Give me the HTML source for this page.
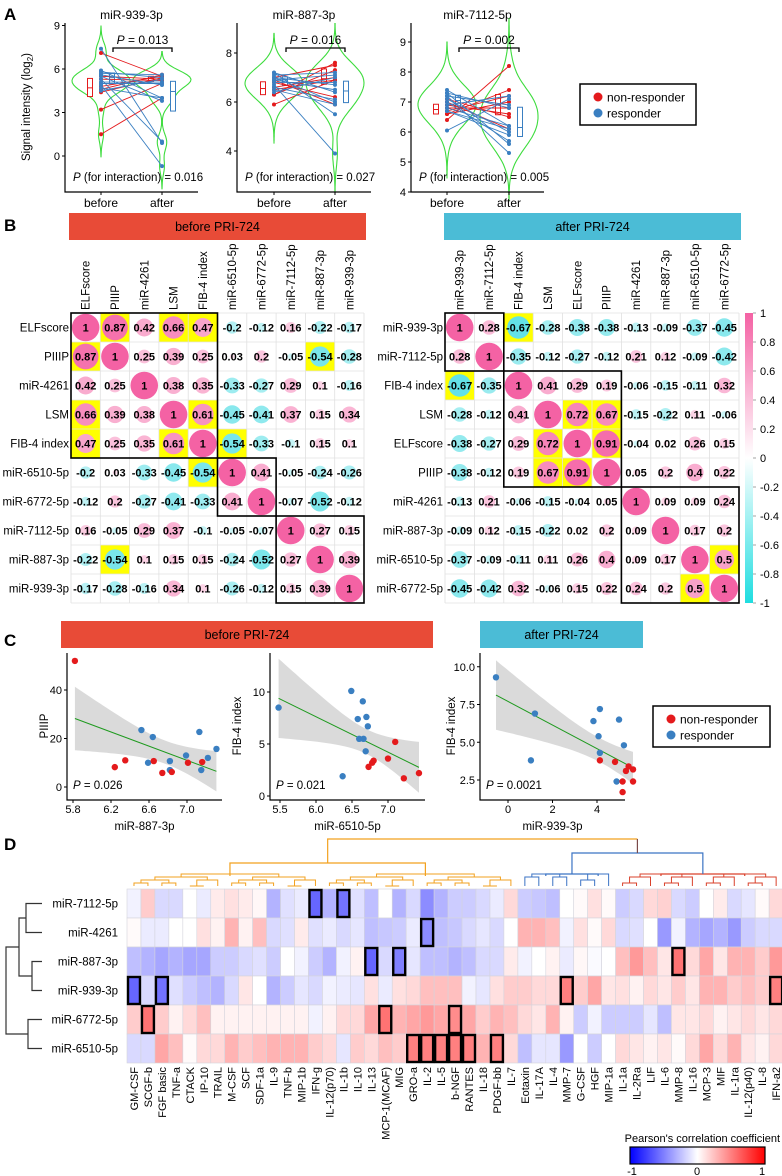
<!DOCTYPE html>
<html><head><meta charset="utf-8">
<style>
html,body{margin:0;padding:0;background:#fff;}
svg{display:block;font-family:"Liberation Sans",Arial,sans-serif;}
</style></head>
<body>
<svg id="fig" width="782" height="1176" viewBox="0 0 782 1176" xmlns="http://www.w3.org/2000/svg">
<text x="4" y="20" font-size="17" font-weight="bold">A</text>
<text x="4" y="231" font-size="17" font-weight="bold">B</text>
<text x="4" y="646" font-size="17" font-weight="bold">C</text>
<text x="4" y="850" font-size="17" font-weight="bold">D</text>
</svg>
<script>
// ---------- DATA ----------
const aTitles = ["miR-939-3p","miR-887-3p","miR-7112-5p"];
const aPvals = ["0.013","0.016","0.002"];
const aPint = ["0.016","0.027","0.005"];
const aRed1 = [[7.1,5.5],[5.5,5.3],[4.6,5.6],[4.4,5.4],[3.2,5.0],[1.5,4.0],[5.3,5.2],[4.8,5.5]];
const aBlue1 = [[7.4,0.9],[5.9,4.0],[5.8,5.4],[5.6,4.9],[5.5,3.8],[5.3,1.0],[5.1,5.1],[4.9,-0.7],[4.7,4.0],[4.5,5.3],[5.0,5.0],[5.7,5.6]];
const aRed2 = [[5.9,6.9],[6.3,7.6],[6.3,7.3],[6.6,7.0],[7.0,7.5],[6.8,6.2],[6.9,5.9],[6.5,6.9]];
const aBlue2 = [[7.2,5.5],[7.2,6.4],[7.1,7.2],[7.0,6.0],[6.9,6.5],[6.8,6.8],[6.7,3.9],[6.6,6.1],[6.5,5.9],[6.4,7.0],[6.9,7.1],[7.0,6.7]];
const aRed3 = [[6.4,8.2],[6.6,7.4],[6.7,7.2],[6.8,6.8],[6.9,6.6],[7.0,6.1],[7.1,6.5],[6.6,7.0]];
const aBlue3 = [[7.4,6.2],[7.3,5.6],[7.2,5.3],[7.2,6.9],[7.1,6.0],[7.0,5.7],[6.9,7.2],[6.8,6.2],[6.05,7.1],[6.7,6.1],[7.3,6.8],[6.7,5.9]];
const aTicks1 = [0,3,6,9];
const aTicks2 = [4,6,8];
const aTicks3 = [4,5,6,7,8,9];

const bLeftLabels = ["ELFscore","PIIIP","miR-4261","LSM","FIB-4 index","miR-6510-5p","miR-6772-5p","miR-7112-5p","miR-887-3p","miR-939-3p"];
const bLeftR = [
[1,.87,.42,.66,.47,-.2,-.12,.16,-.22,-.17],
[.87,1,.25,.39,.25,.03,.2,-.05,-.54,-.28],
[.42,.25,1,.38,.35,-.33,-.27,.29,.1,-.16],
[.66,.39,.38,1,.61,-.45,-.41,.37,.15,.34],
[.47,.25,.35,.61,1,-.54,-.33,-.1,.15,.1],
[-.2,.03,-.33,-.45,-.54,1,.41,-.05,-.24,-.26],
[-.12,.2,-.27,-.41,-.33,.41,1,-.07,-.52,-.12],
[.16,-.05,.29,.37,-.1,-.05,-.07,1,.27,.15],
[-.22,-.54,.1,.15,.15,-.24,-.52,.27,1,.39],
[-.17,-.28,-.16,.34,.1,-.26,-.12,.15,.39,1]];
const bLeftSig = [[0,1],[0,3],[0,4],[1,0],[1,8],[3,0],[3,4],[4,0],[4,3],[4,5],[5,4],[8,1]];
const bLeftClusters = [[0,4],[5,6],[7,9]];
const bRightLabels = ["miR-939-3p","miR-7112-5p","FIB-4 index","LSM","ELFscore","PIIIP","miR-4261","miR-887-3p","miR-6510-5p","miR-6772-5p"];
const bRightR = [
[1,.28,-.67,-.28,-.38,-.38,-.13,-.09,-.37,-.45],
[.28,1,-.35,-.12,-.27,-.12,.21,.12,-.09,-.42],
[-.67,-.35,1,.41,.29,.19,-.06,-.15,-.11,.32],
[-.28,-.12,.41,1,.72,.67,-.15,-.22,.11,-.06],
[-.38,-.27,.29,.72,1,.91,-.04,.02,.26,.15],
[-.38,-.12,.19,.67,.91,1,.05,.2,.4,.22],
[-.13,.21,-.06,-.15,-.04,.05,1,.09,.09,.24],
[-.09,.12,-.15,-.22,.02,.2,.09,1,.17,.2],
[-.37,-.09,-.11,.11,.26,.4,.09,.17,1,.5],
[-.45,-.42,.32,-.06,.15,.22,.24,.2,.5,1]];
const bRightSig = [[0,2],[2,0],[3,4],[3,5],[4,3],[4,5],[5,3],[5,4],[8,9],[9,8]];
const bRightClusters = [[0,1],[2,5],[6,9]];
const bBarTicks = [1,0.8,0.6,0.4,0.2,0,-0.2,-0.4,-0.6,-0.8,-1];

const c1X = [5.82,6.24,6.35,6.52,6.59,6.65,6.64,6.74,6.82,6.84,6.82,6.99,7.01,7.13,7.15,7.16,7.22,7.31];
const c1Y = [52,8.2,11,23.5,10,10.7,20.6,5.8,7,6.2,10.7,13,10,22.7,7,10.3,12,15.7];
const c1G = [1,1,1,0,0,1,0,1,0,1,0,0,1,0,0,1,0,0];
const c2X = [5.48,6.37,6.49,6.58,6.65,6.60,6.66,6.70,6.72,6.69,6.73,6.78,6.80,7.0,7.10,7.22,7.43];
const c2Y = [8.5,1.9,10.1,7.4,9.1,5.5,5.5,7.6,6.7,4.3,2.8,3.2,3.4,3.6,5.2,1.7,2.2];
const c2G = [0,0,0,0,0,0,0,0,0,0,1,1,1,1,1,1,1];
const c3X = [-0.54,1.21,1.03,3.84,4.07,4.13,4.13,4.13,4.81,4.99,4.88,5.15,5.21,5.15,5.30,5.42,5.62,5.62];
const c3Y = [9.3,6.9,3.8,6.4,5.4,7.2,4.3,3.8,3.7,6.5,2.4,2.4,4.8,1.7,3.1,3.4,3.2,2.4];
const c3G = [0,0,0,0,0,0,0,1,1,0,0,1,0,1,1,1,1,1];
const cP = ["0.026","0.021","0.0021"];

const dRows = ["miR-7112-5p","miR-4261","miR-887-3p","miR-939-3p","miR-6772-5p","miR-6510-5p"];
const dCols = ["GM-CSF","SCGF-b","FGF basic","TNF-a","CTACK","IP-10","TRAIL","M-CSF","SCF","SDF-1a","IL-9","TNF-b","MIP-1b","IFN-g","IL-12(p70)","IL-1b","IL-10","IL-13","MCP-1(MCAF)","MIG","GRO-a","IL-2","IL-5","b-NGF","RANTES","IL-18","PDGF-bb","IL-7","Eotaxin","IL-17A","IL-4","MMP-7","G-CSF","HGF","MIP-1a","IL-1a","IL-2Ra","LIF","IL-6","MMP-8","IL-16","MCP-3","MIF","IL-1ra","IL-12(p40)","IL-8","IFN-a2"];
const dVals = [
[-0.05,0.2,-0.15,-0.15,0,-0.08,0.08,0.12,0.08,0.03,-0.3,-0.12,-0.08,-0.6,-0.3,-0.55,-0.12,-0.25,0,-0.3,-0.15,-0.45,-0.3,-0.2,-0.2,-0.15,-0.08,0.15,-0.2,-0.22,-0.25,0,0.02,0.12,0.02,-0.2,-0.15,0.15,0.18,-0.15,-0.2,0,0.08,-0.15,-0.1,0.02,0.15],
[0.02,-0.08,-0.08,0,0,0.12,0.05,0.3,0.05,0.25,-0.15,-0.12,0.08,-0.12,-0.08,-0.15,-0.1,-0.25,-0.22,-0.2,-0.08,-0.45,-0.25,-0.22,-0.15,-0.1,-0.15,0,0.3,0.3,0.25,-0.05,0.12,0.02,0.15,-0.15,-0.12,0,-0.4,-0.05,-0.3,-0.35,-0.3,-0.4,-0.2,-0.15,-0.15],
[-0.25,-0.3,-0.35,-0.3,-0.35,-0.35,-0.2,-0.2,-0.15,-0.12,-0.2,0,-0.05,-0.2,-0.3,-0.05,0.05,-0.6,-0.15,-0.5,-0.1,-0.25,-0.25,-0.3,-0.25,-0.15,-0.15,0.08,-0.05,0,0.05,-0.08,0.03,-0.02,0,0.25,0.4,0.25,0.1,0.55,0.15,0.35,0.1,0.3,0.3,0.2,0.4],
[-0.6,-0.15,-0.55,-0.12,-0.2,-0.25,-0.3,-0.15,0.1,0,-0.3,-0.2,-0.1,-0.15,-0.05,-0.08,-0.1,0.12,-0.08,0.12,0.15,0.25,0.25,0.25,-0.05,-0.1,0.12,0.2,0.2,0.15,0.15,0.5,0.2,0.35,0.1,0.12,0.05,0.15,0.1,0.2,0.1,0.3,0.3,0.2,0.25,0.2,0.5],
[0.2,0.55,0.2,0.05,0.15,0.25,0.05,0.05,0.05,0.05,0.05,0.05,0.05,-0.05,0.05,0.15,0.15,0.35,0.55,0.3,0.35,0.4,0.35,0.45,0.35,0.2,0.3,0.25,0.15,0.1,0.3,0.05,-0.2,-0.05,-0.2,-0.2,-0.2,-0.1,-0.25,0.1,0.1,0.15,0.05,0.1,0.15,0.1,0.15],
[-0.15,-0.15,0.35,0.25,0.02,0.15,0.15,0.3,0.2,0.25,0.3,0.3,0.3,0.2,0.15,-0.1,0.2,0.15,0.25,0.2,0.5,0.5,0.5,0.5,0.5,0.3,0.5,0.15,-0.25,-0.1,-0.1,-0.4,0,-0.2,0,0.15,0.1,0.05,0.1,0.02,0.15,0.35,0.15,0.3,0.1,0.05,0.15]];
const dSig = [[0,13],[0,15],[1,21],[2,17],[2,19],[2,39],[3,0],[3,2],[3,31],[3,46],[4,1],[4,18],[4,23],[5,20],[5,21],[5,22],[5,23],[5,24],[5,26]];
const dColClusters = [[0,27,"#f2a11f"],[28,34,"#3b73c4"],[35,46,"#d9412b"]];

// ---------- HELPERS ----------
const NS="http://www.w3.org/2000/svg";
const svg=document.getElementById("fig");
function mk(tag,attrs,parent){const e=document.createElementNS(NS,tag);for(const k in attrs)e.setAttribute(k,attrs[k]);(parent||svg).appendChild(e);return e;}
function txt(x,y,s,size,attrs,parent){const e=mk("text",Object.assign({x:x,y:y,"font-size":size},attrs||{}),parent);e.textContent=s;return e;}
const RED="#e41a1c",BLUE="#3a7fc1";

// ---------- PANEL A ----------
const aCfg=[
 {x0:65,x1:198,top:23,bot:192,bx:101,ax:162,y:v=>156-v*14.5,ticks:aTicks1,red:aRed1,blue:aBlue1},
 {x0:237,x1:371,top:23,bot:192,bx:274,ax:335,y:v=>53-(v-8)*24.5,ticks:aTicks2,red:aRed2,blue:aBlue2},
 {x0:411,x1:544,top:23,bot:192,bx:447,ax:509,y:v=>42-(v-9)*30,ticks:aTicks3,red:aRed3,blue:aBlue3}];
function quant(a,q){const s=[...a].sort((x,y)=>x-y);const p=(s.length-1)*q;const i=Math.floor(p);return s[i]+(s[Math.min(i+1,s.length-1)]-s[i])*(p-i);}
function violin(vals,cx,ys,parent){
  const bw=0.55;const lo=Math.min(...vals)-1.6,hi=Math.max(...vals)+1.6;const n=60;let mx=0;const ds=[];
  for(let i=0;i<=n;i++){const v=lo+(hi-lo)*i/n;let d=0;vals.forEach(u=>{d+=Math.exp(-0.5*((v-u)/bw)**2);});ds.push([v,d]);mx=Math.max(mx,d);}
  const L=[],R=[];ds.forEach(([v,d])=>{const w=d/mx*29;L.push([cx-w,ys(v)]);R.push([cx+w,ys(v)]);});
  const path="M"+R.map(p=>p[0].toFixed(1)+","+p[1].toFixed(1)).join("L")+"L"+L.reverse().map(p=>p[0].toFixed(1)+","+p[1].toFixed(1)).join("L")+"Z";
  return mk("path",{d:path,fill:"none",stroke:"#3ddc3d","stroke-width":1.1},parent);
}
function boxA(vals,cx,ys,col,parent){
  const q1=quant(vals,.25),q2=quant(vals,.5),q3=quant(vals,.75);
  const g=mk("g",{},parent);
  mk("rect",{x:cx-2.5,y:ys(q3),width:5,height:Math.max(1,ys(q1)-ys(q3)),fill:"#fff",stroke:col,"stroke-width":1},g);
  mk("line",{x1:cx-2.5,x2:cx+2.5,y1:ys(q2),y2:ys(q2),stroke:col,"stroke-width":1},g);
  return g;
}
aCfg.forEach((c,k)=>{
  const g=mk("g",{});
  
  
  const t=txt((c.x0+c.x1)/2,19,aTitles[k],12,{"text-anchor":"middle"},g);
  
  
  const all=c.red.concat(c.blue);
  const vb=violin(all.map(p=>p[0]),c.bx,c.y,g);
  
  
  const va=violin(all.map(p=>p[1]),c.ax,c.y,g);
  
  
  [[c.red,RED,-11],[c.blue,BLUE,11]].forEach(([set,col,off])=>{
    const b1=boxA(set.map(p=>p[0]),c.bx+off,c.y,col,g);
    
    
    const b2=boxA(set.map(p=>p[1]),c.ax+off,c.y,col,g);
    
    
  });
  [[c.red,RED],[c.blue,BLUE]].forEach(([set,col])=>set.forEach(p=>{
    const l=mk("line",{x1:c.bx,y1:c.y(p[0]),x2:c.ax,y2:c.y(p[1]),stroke:col,"stroke-width":0.9},g);
    
    
    const d1=mk("circle",{cx:c.bx,cy:c.y(p[0]),r:2,fill:col},g);
    
    
    const d2=mk("circle",{cx:c.ax,cy:c.y(p[1]),r:2,fill:col},g);
    
    
  }));
  const ax=mk("path",{d:`M${c.x0},${c.top}V${c.bot}H${c.x1}`,fill:"none",stroke:"#000","stroke-width":1.2},g);
  
  
  c.ticks.forEach(v=>{
    mk("line",{x1:c.x0-3,x2:c.x0,y1:c.y(v),y2:c.y(v),stroke:"#000"},g);
    const tl=txt(c.x0-5,c.y(v)+4,String(v),11,{"text-anchor":"end"},g);
    
    
  });
  [[c.bx,"before"],[c.ax,"after"]].forEach(([x,s])=>{
    mk("line",{x1:x,x2:x,y1:c.bot,y2:c.bot+3,stroke:"#000"},g);
    const tl=txt(x,207,s,12,{"text-anchor":"middle"},g);
    
    
  });
  const br=mk("path",{d:`M${c.bx+12},52V48H${c.ax+10}V52`,fill:"none",stroke:"#000","stroke-width":1.3},g);
  
  
  const pt=mk("text",{x:(c.bx+c.ax)/2+11,y:44,"font-size":12,"text-anchor":"middle"},g);
  pt.innerHTML='<tspan font-style="italic">P</tspan> = '+aPvals[k];
  
  
  const pi=mk("text",{x:c.x0+8,y:181,"font-size":11.5},g);
  pi.innerHTML='<tspan font-style="italic">P</tspan> (for interaction) = '+aPint[k];
  
  
});
const ayl=mk("text",{x:0,y:0,"font-size":11.5,"text-anchor":"middle",transform:"translate(30,107) rotate(-90)"});
ayl.innerHTML='Signal intensity (log<tspan font-size="8" dy="3">2</tspan><tspan dy="-3">)</tspan>';


function legend(x,y,w,h,name){
  const g=mk("g",{});
  
  
  mk("rect",{x:x,y:y,width:w,height:h,fill:"#fff",stroke:"#000","stroke-width":1.5},g);
  mk("circle",{cx:x+18,cy:y+13,r:4.5,fill:RED},g);
  const t1=txt(x+27,y+17.5,"non-responder",12,{},g);
  
  
  mk("circle",{cx:x+18,cy:y+29,r:4.5,fill:BLUE},g);
  const t2=txt(x+27,y+33.5,"responder",12,{},g);
  
  
}
legend(580,84,116,41,"legend-a");

// ---------- PANEL B ----------
function banner(x,y,w,h,col,s,name){
  const r=mk("rect",{x:x,y:y,width:w,height:h,fill:col});
  
  
  const t=txt(x+w/2,y+h/2+4.5,s,12.5,{"text-anchor":"middle"});
  
  
}
banner(69,213,297,27,"#e84b37","before PRI-724","banner-b-before");
banner(444,213,297,27,"#4bbcd6","after PRI-724","banner-b-after");
function mixc(a,b,t){return "rgb("+a.map((v,i)=>Math.round(v+(b[i]-v)*t)).join(",")+")";}
function corrMatrix(x0,y0,cw,ch,labels,R,sig,clusters,name){
  const g=mk("g",{});
  
  
  const n=labels.length;
  sig.forEach(([i,j])=>{mk("rect",{x:x0+j*cw,y:y0+i*ch,width:cw,height:ch,fill:"#ffff00"},g);});
  for(let i=0;i<=n;i++){
    mk("line",{x1:x0,x2:x0+n*cw,y1:y0+i*ch,y2:y0+i*ch,stroke:"#e0e0e0","stroke-width":0.8},g);
    mk("line",{y1:y0,y2:y0+n*ch,x1:x0+i*cw,x2:x0+i*cw,stroke:"#e0e0e0","stroke-width":0.8},g);
  }
  for(let i=0;i<n;i++){
    const rl=txt(x0-2,y0+i*ch+ch/2+4,labels[i],11.5,{"text-anchor":"end"},g);
    
    
    const cl=txt(0,0,labels[i],11.5,{"text-anchor":"start",transform:`translate(${x0+i*cw+cw/2+4},${y0-3}) rotate(-90)`},g);
    
    
    for(let j=0;j<n;j++){
      const r=R[i][j];const a=Math.abs(r);
      const col=r>=0?mixc([255,255,255],[244,98,164],Math.min(1,a*0.8+0.2)):mixc([255,255,255],[43,214,222],Math.min(1,a*0.8+0.2));
      const c=mk("circle",{cx:x0+j*cw+cw/2,cy:y0+i*ch+ch/2,r:Math.sqrt(a)*13.8,fill:col},g);
      
      
      const t=txt(x0+j*cw+cw/2,y0+i*ch+ch/2+4,String(r),11,{"text-anchor":"middle","font-weight":"bold"},g);
      
      
    }
  }
  clusters.forEach(([a,b])=>{
    const r=mk("rect",{x:x0+a*cw,y:y0+a*ch,width:(b-a+1)*cw,height:(b-a+1)*ch,fill:"none",stroke:"#000","stroke-width":1.6},g);
    
    
  });
}
corrMatrix(71,313,29.3,29,bLeftLabels,bLeftR,bLeftSig,bLeftClusters,"corr-matrix-before");
corrMatrix(445,313,29.4,29,bRightLabels,bRightR,bRightSig,bRightClusters,"corr-matrix-after");
const defs=mk("defs",{});
defs.innerHTML='<linearGradient id="gB" x1="0" y1="0" x2="0" y2="1"><stop offset="0" stop-color="#f462a4"/><stop offset="0.5" stop-color="#ffffff"/><stop offset="1" stop-color="#1fdde0"/></linearGradient><linearGradient id="gD" x1="0" y1="0" x2="1" y2="0"><stop offset="0" stop-color="#0000ff"/><stop offset="0.5" stop-color="#ffffff"/><stop offset="1" stop-color="#ff0000"/></linearGradient>';
const cbB=mk("rect",{x:745,y:313,width:8,height:290,fill:"url(#gB)"});


bBarTicks.forEach(v=>{
  const y=313+(1-v)/2*290;
  mk("line",{x1:753,x2:756,y1:y,y2:y,stroke:"#666","stroke-width":0.6});
  const t=txt(760,y+4,String(v),11,{});
  
  
});

// ---------- PANEL C ----------
banner(61,621,372,27,"#e84b37","before PRI-724","banner-c-before");
banner(480,621,163,27,"#4bbcd6","after PRI-724","banner-c-after");
const cCfg=[
 {X:c1X,Y:c1Y,G:c1G,ax:67,ar:222,top:653,xs:v=>73+(v-5.8)*95,ys:v=>787-v*2.425,xt:[5.8,6.2,6.6,7.0],xtl:["5.8","6.2","6.6","7.0"],yt:[0,20,40],ytl:["0","20","40"],xl:"miR-887-3p",yl:"PIIIP",ylx:48},
 {X:c2X,Y:c2Y,G:c2G,ax:270,ar:425,top:653,xs:v=>280+(v-5.5)*72,ys:v=>796-v*10.4,xt:[5.5,6,6.5,7],xtl:["5.5","6.0","6.5","7.0"],yt:[0,5,10],ytl:["0","5","10"],xl:"miR-6510-5p",yl:"FIB-4 index",ylx:241},
 {X:c3X,Y:c3Y,G:c3G,ax:480,ar:625,top:653,xs:v=>508+v*22.25,ys:v=>780-(v-2.5)*15.1,xt:[0,2,4],xtl:["0","2","4"],yt:[2.5,5,7.5,10],ytl:["2.5","5.0","7.5","10.0"],xl:"miR-939-3p",yl:"FIB-4 index",ylx:455}];
cCfg.forEach((c,k)=>{
  const g=mk("g",{});
  
  
  const n=c.X.length;const mx=c.X.reduce((a,b)=>a+b)/n,my=c.Y.reduce((a,b)=>a+b)/n;
  let sxx=0,sxy=0;for(let i=0;i<n;i++){sxx+=(c.X[i]-mx)**2;sxy+=(c.X[i]-mx)*(c.Y[i]-my);}
  const b=sxy/sxx,a=my-b*mx;let sse=0;for(let i=0;i<n;i++)sse+=(c.Y[i]-a-b*c.X[i])**2;
  const s=Math.sqrt(sse/(n-2));const lo=Math.min(...c.X),hi=Math.max(...c.X);
  const up=[],dn=[];for(let i=0;i<=40;i++){const x=lo+(hi-lo)*i/40;const yh=a+b*x;const e=2.12*s*Math.sqrt(1/n+(x-mx)**2/sxx);up.push(c.xs(x).toFixed(1)+","+c.ys(yh+e).toFixed(1));dn.push(c.xs(x).toFixed(1)+","+c.ys(yh-e).toFixed(1));}
  const band=mk("path",{d:"M"+up.join("L")+"L"+dn.reverse().join("L")+"Z",fill:"#d3d3d3","fill-opacity":0.85},g);
  
  
  const fit=mk("line",{x1:c.xs(lo),y1:c.ys(a+b*lo),x2:c.xs(hi),y2:c.ys(a+b*hi),stroke:"#1e9a1e","stroke-width":1},g);
  
  
  for(let i=0;i<n;i++){
    const p=mk("circle",{cx:c.xs(c.X[i]),cy:c.ys(c.Y[i]),r:3.2,fill:c.G[i]?RED:BLUE},g);
    
    
  }
  const axl=mk("path",{d:`M${c.ax},${c.top}V800H${c.ar}`,fill:"none",stroke:"#000","stroke-width":1.2},g);
  
  
  c.yt.forEach((v,i)=>{mk("line",{x1:c.ax-3,x2:c.ax,y1:c.ys(v),y2:c.ys(v),stroke:"#000"},g);
    const t=txt(c.ax-5,c.ys(v)+4,c.ytl[i],11,{"text-anchor":"end"},g);
    
    });
  c.xt.forEach((v,i)=>{mk("line",{x1:c.xs(v),x2:c.xs(v),y1:800,y2:803,stroke:"#000"},g);
    const t=txt(c.xs(v),813,c.xtl[i],11,{"text-anchor":"middle"},g);
    
    });
  const xl=txt((c.ax+c.ar)/2,830,c.xl,11.5,{"text-anchor":"middle"},g);
  
  
  const yl=txt(0,0,c.yl,11.5,{"text-anchor":"middle",transform:`translate(${c.ylx},726) rotate(-90)`},g);
  
  
  const pt=mk("text",{x:c.ax+6,y:789,"font-size":11.5},g);
  pt.innerHTML='<tspan font-style="italic">P</tspan>  = '+cP[k];
  
  
});
legend(653,706,117,41,"legend-c");

// ---------- PANEL D ----------
const hx0=127,hy0=889,hcw=13.96,hch=29;
const hm=mk("g",{});


dVals.forEach((row,i)=>row.forEach((v,j)=>{
  const col=v>=0?mixc([255,255,255],[255,0,0],Math.min(1,v)):mixc([255,255,255],[0,0,255],Math.min(1,-v));
  const c=mk("rect",{x:hx0+j*hcw,y:hy0+i*hch,width:hcw,height:hch,fill:col,stroke:"#d4d4dc","stroke-width":0.6},hm);
  
  
}));
dSig.forEach(([i,j])=>{
  const r=mk("rect",{x:hx0+j*hcw+1,y:hy0+i*hch+1,width:hcw-2,height:hch-2,fill:"none",stroke:"#000","stroke-width":2.4},hm);
  
  
});
dRows.forEach((s,i)=>{
  const t=txt(118,hy0+i*hch+hch/2+4,s,11.5,{"text-anchor":"end"});
  
  
});
dCols.forEach((s,j)=>{
  const t=txt(0,0,s,11,{"text-anchor":"end",transform:`translate(${hx0+j*hcw+hcw/2+4},${hy0+6*hch+4}) rotate(-90)`});
  
  
});
const rc=i=>hy0+i*hch+hch/2;
const rd=mk("path",{d:
 `M42,${rc(0)}H26V${rc(1)}H42 M42,${rc(2)}H32V${rc(3)}H42 M26,${(rc(0)+rc(1))/2}H19V${(rc(2)+rc(3))/2}H32 M42,${rc(4)}H28V${rc(5)}H42 M19,${(rc(0)+rc(3))/2}H6V${(rc(4)+rc(5))/2}H28`,
 fill:"none",stroke:"#333","stroke-width":1.2});


const ccx=j=>hx0+j*hcw+hcw/2;
function subTree(a,b,yTop,color,parent){
  if(a===b)return ccx(a);
  const m=Math.floor((a+b)/2);
  const lvl=yTop+(b-a<3?6:3);
  const l=subTree(a,m,lvl,color,parent),r=subTree(m+1,b,lvl,color,parent);
  const yl=a===m?886:lvl,yr=m+1===b?886:lvl;
  mk("path",{d:`M${l},${yl}V${yTop}H${r}V${yr}`,fill:"none",stroke:color,"stroke-width":1},parent);
  return (l+r)/2;
}
const dg=mk("g",{});


const cmid=[];
dColClusters.forEach(([a,b,col],k)=>{
  const m=k===0?13:Math.floor((a+b)/2);
  const l=subTree(a,m,874,col,dg),r=subTree(m+1,b,874,col,dg);
  const top=k===0?863:874;
  mk("path",{d:`M${l},876V${top}H${r}V876`,fill:"none",stroke:col,"stroke-width":1.2},dg);
  cmid.push([(l+r)/2,top]);
});
mk("path",{d:`M${cmid[1][0]},${cmid[1][1]}V853H${cmid[2][0]}V${cmid[2][1]}`,fill:"none",stroke:"#3b73c4","stroke-width":1.2},dg);
const br2=(cmid[1][0]+cmid[2][0])/2;
mk("path",{d:`M${cmid[0][0]},${cmid[0][1]}V839H${br2}`,fill:"none",stroke:"#f2a11f","stroke-width":1.2},dg);
mk("path",{d:`M${br2},839V853`,fill:"none",stroke:"#7a4a4a","stroke-width":1.2},dg);
const cbt=txt(780,1142,"Pearson's correlation coefficient",11,{"text-anchor":"end"});


const cbD=mk("rect",{x:630,y:1147,width:135,height:17,fill:"url(#gD)",stroke:"#000","stroke-width":1.2});


[["-1",632],["0",697],["1",762]].forEach(([s,x])=>{
  const t=txt(x,1175,s,11,{"text-anchor":"middle"});
  
  
});
</script>
</body></html>
